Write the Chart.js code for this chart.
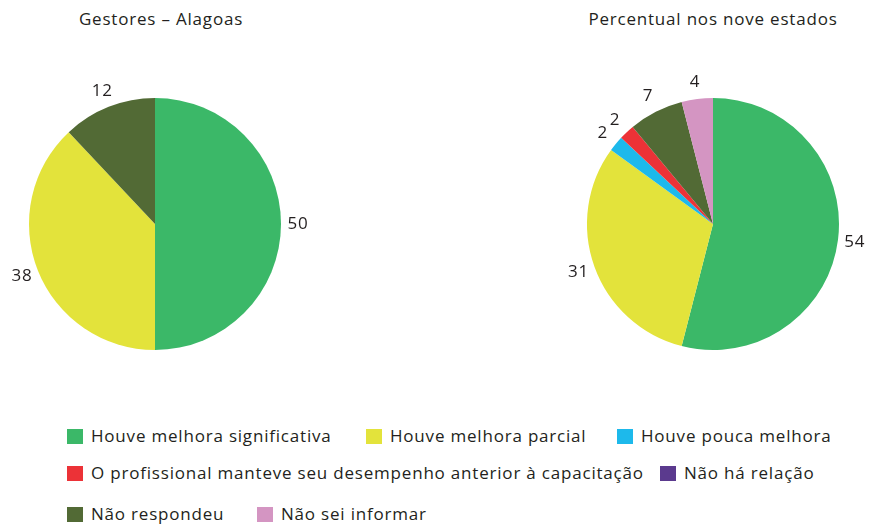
<!DOCTYPE html>
<html>
<head>
<meta charset="utf-8">
<script src="https://cdn.jsdelivr.net/npm/chart.js@4/dist/chart.umd.min.js"></script>
<style>
  body { margin: 0; background: #fff; width: 873px; height: 525px; position: relative; overflow: hidden;
         font-family: "Open Sans", "Noto Sans", sans-serif; color: #231f20; letter-spacing: 0.8px; }
  .title { position: absolute; top: 7px; font-size: 17px; text-align: center; width: 300px; }
  .box { position: absolute; width: 320px; height: 320px; }
  .leg { position: absolute; font-size: 17px; line-height: 18px; white-space: nowrap; }
  .leg span.sw { display: inline-block; width: 16px; height: 15px; vertical-align: -2px; margin-right: 8px; }
</style>
</head>
<body>
<div class="title" style="left:11px">Gestores – Alagoas</div>
<div class="title" style="left:563px">Percentual nos nove estados</div>
<div class="box" style="left:-5px; top:64px"><canvas id="pieAL"></canvas></div>
<div class="box" style="left:553px; top:64px"><canvas id="pieNove"></canvas></div>
<div id="legend"></div>
<script>
const categories = [
    'Houve melhora significativa',
    'Houve melhora parcial',
    'Houve pouca melhora',
    'O profissional manteve seu desempenho anterior à capacitação',
    'Não há relação',
    'Não respondeu',
    'Não sei informar'
];
const colors = ['#3bb868', '#e3e33b', '#1db9eb', '#ec3237', '#5b3a8e', '#526a35', '#d495c2'];
const alagoasValues = [50, 38, 0, 0, 0, 12, 0];
const noveEstadosValues = [54, 31, 2, 2, 0, 7, 4];

// legend placement (x, y) per category
const legendPos = [[67, 427], [366, 427], [617, 427], [67, 464], [660, 464], [67, 505], [257, 505]];

const legend = document.getElementById('legend');
categories.forEach((name, i) => {
    const d = document.createElement('div');
    d.className = 'leg';
    d.style.left = legendPos[i][0] + 'px';
    d.style.top = legendPos[i][1] + 'px';
    d.innerHTML = '<span class="sw" style="background:' + colors[i] + '"></span>' + name;
    legend.appendChild(d);
});

const outsideLabels = {
    id: 'outsideLabels',
    afterDatasetsDraw(chart) {
        const ctx = chart.ctx;
        const meta = chart.getDatasetMeta(0);
        const data = chart.data.datasets[0].data;
        ctx.save();
        ctx.font = '17px "Open Sans", "Noto Sans", sans-serif';
        ctx.letterSpacing = '0.8px';
        ctx.fillStyle = '#231f20';
        ctx.textAlign = 'center';
        ctx.textBaseline = 'middle';
        meta.data.forEach((arc, i) => {
            if (!data[i]) return;
            const mid = (arc.startAngle + arc.endAngle) / 2;
            const r = arc.outerRadius + 17;
            ctx.fillText(data[i], arc.x + Math.cos(mid) * r, arc.y + Math.sin(mid) * r);
        });
        ctx.restore();
    }
};

function makePie(id, values) {
    new Chart(document.getElementById(id), {
        type: 'pie',
        data: {
            labels: categories,
            datasets: [{ data: values, backgroundColor: colors, borderWidth: 0 }]
        },
        options: {
            responsive: true,
            maintainAspectRatio: false,
            animation: false,
            layout: { padding: 34 },
            plugins: { legend: { display: false }, tooltip: { enabled: false } }
        },
        plugins: [outsideLabels]
    });
}

makePie('pieAL', alagoasValues);
makePie('pieNove', noveEstadosValues);
</script>
</body>
</html>
